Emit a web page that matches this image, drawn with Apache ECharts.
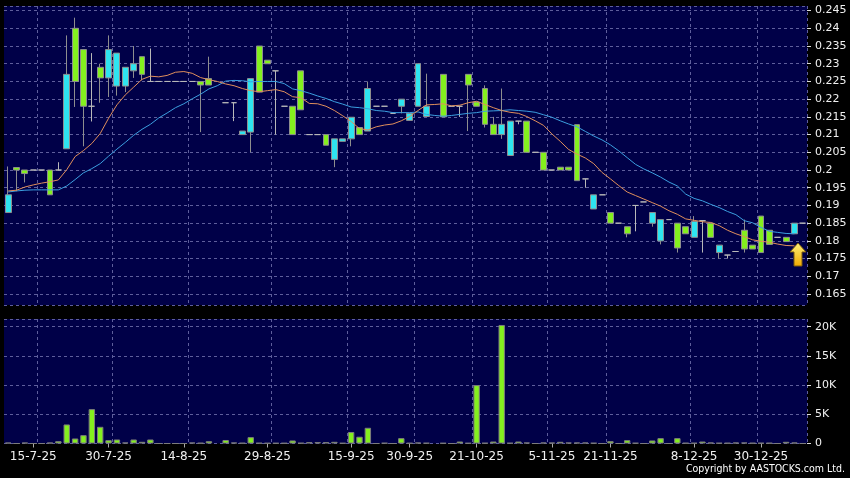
<!DOCTYPE html>
<html><head><meta charset="utf-8">
<script src="https://cdn.jsdelivr.net/npm/echarts@6/dist/echarts.min.js"></script>
<style>html,body{margin:0;padding:0;background:#000;}#c{width:850px;height:478px;}</style>
</head><body><div id="c"></div>
<script>
// tick labels on the date axis and the slot (trading-day index) each sits on
const tickLabels = ['15-7-25','30-7-25','14-8-25','29-8-25','15-9-25','30-9-25','21-10-25','5-11-25','21-11-25','8-12-25','30-12-25'];
const tickSlots  = [3, 12, 21, 31, 41, 48, 56, 65, 72, 82, 90];
const gridSlots  = [4, 13, 22, 32, 41, 49, 56, 65, 72, 82, 90];

// daily candles: [open, close, low, high]; null = no bar
const candles = [
 [0.188,0.193,0.188,0.201],[0.2007,0.200,0.194,0.2007],[0.200,0.199,0.1965,0.200],[0.2,0.2,0.2,0.2],[0.2,0.2,0.2,0.2],
 [0.200,0.193,0.193,0.200],[0.2,0.2,0.2,0.2022],[0.206,0.227,0.206,0.238],[0.240,0.225,0.2178,0.243],[0.234,0.218,0.2067,0.234],
 [0.218,0.218,0.2137,0.233],[0.229,0.226,0.219,0.230],[0.226,0.234,0.2206,0.238],[0.2237,0.233,0.221,0.233],[0.2237,0.229,0.222,0.229],
 [0.228,0.230,0.226,0.235],[0.232,0.227,0.2253,0.232],[0.225,0.225,0.225,0.2343],[0.225,0.225,0.225,0.225],[0.225,0.225,0.225,0.225],
 [0.225,0.225,0.225,0.225],[0.225,0.225,0.225,0.225],[0.225,0.225,0.225,0.225],[0.225,0.224,0.2107,0.225],[0.2258,0.224,0.224,0.232],
 null,[0.219,0.219,0.219,0.219],[0.219,0.219,0.2138,0.219],[0.210,0.211,0.210,0.211],[0.2107,0.2258,0.205,0.2258],
 [0.235,0.222,0.222,0.235],[0.231,0.230,0.230,0.231],[0.228,0.228,0.210,0.228],[0.218,0.218,0.218,0.218],[0.218,0.210,0.210,0.218],
 [0.228,0.217,0.217,0.228],[0.210,0.210,0.210,0.210],[0.210,0.210,0.210,0.210],[0.210,0.207,0.207,0.210],[0.203,0.2088,0.2008,0.2088],
 [0.2081,0.2088,0.2081,0.2088],[0.2088,0.2149,0.2067,0.2149],[0.212,0.210,0.210,0.212],[0.211,0.223,0.211,0.225],[0.218,0.218,0.218,0.218],
 [0.218,0.218,0.218,0.218],[0.216,0.216,0.216,0.216],[0.218,0.220,0.216,0.220],[0.214,0.216,0.214,0.216],[0.218,0.230,0.218,0.230],
 [0.2151,0.218,0.2151,0.2272],null,[0.227,0.215,0.215,0.227],[0.218,0.218,0.218,0.218],[0.218,0.218,0.215,0.218],
 [0.227,0.224,0.211,0.227],[0.2192,0.218,0.218,0.2192],[0.223,0.2129,0.212,0.2239],[0.2129,0.210,0.210,0.215],[0.210,0.2129,0.2088,0.223],
 [0.2041,0.2138,0.2041,0.2138],[0.2138,0.2138,0.2129,0.2138],[0.2138,0.205,0.205,0.2138],[0.205,0.205,0.205,0.205],[0.205,0.200,0.200,0.205],
 [0.2,0.2,0.2,0.2],[0.2008,0.200,0.200,0.2008],[0.2008,0.200,0.200,0.2008],[0.2128,0.197,0.197,0.2128],[0.1975,0.1975,0.195,0.1975],
 [0.189,0.193,0.189,0.193],[0.193,0.193,0.193,0.193],[0.188,0.185,0.185,0.188],[0.185,0.185,0.185,0.185],[0.184,0.182,0.181,0.184],
 [0.190,0.190,0.1827,0.190],[0.191,0.191,0.191,0.191],[0.185,0.188,0.184,0.188],[0.180,0.186,0.179,0.186],[0.186,0.186,0.186,0.186],
 [0.185,0.178,0.1767,0.185],[0.184,0.182,0.182,0.184],[0.181,0.1855,0.181,0.187],[0.1857,0.1857,0.1767,0.1857],[0.185,0.181,0.181,0.185],
 [0.1767,0.1788,0.175,0.1788],[0.176,0.176,0.175,0.176],[0.177,0.177,0.177,0.177],[0.183,0.1777,0.1767,0.186],[0.1788,0.1777,0.1777,0.1788],
 [0.187,0.1767,0.1767,0.187],[0.183,0.179,0.179,0.183],[0.181,0.181,0.181,0.181],[0.181,0.1798,0.1798,0.181],[0.182,0.185,0.182,0.185],
 [0.185,0.185,0.185,0.185]
];

const volume = [
 150,0,150,0,0,150,400,3260,860,1430,
 5890,2860,570,690,170,690,290,690,0,0,
 0,0,170,100,400,null,600,170,100,1090,
 100,80,80,80,520,100,230,230,230,290,
 80,1970,1160,2690,0,100,0,920,80,170,
 100,null,80,0,340,80,10000,100,340,20300,
 100,340,170,0,170,150,290,170,170,170,
 100,0,400,0,570,100,0,520,920,0,
 920,100,100,340,170,100,100,170,170,100,
 100,100,0,290,170,0
];

const maShort = [
 0.1941,0.1943,0.1952,0.1958,0.1963,0.1967,0.1972,0.2001,0.2038,0.2055,
 0.2075,0.2103,0.2146,0.2184,0.2212,0.2234,0.2256,0.2265,0.2263,0.2267,
 0.2276,0.2278,0.2273,0.2261,0.2255,0.2250,0.2243,0.2238,0.2230,0.2224,
 0.2221,0.2224,0.2227,0.2221,0.2207,0.2204,0.2188,0.2187,0.2180,0.2168,
 0.2153,0.2137,0.2117,0.2113,0.2122,0.2127,0.2130,0.2139,0.2151,0.2168,
 0.2184,0.2185,0.2187,0.2181,0.2183,0.2190,0.2194,0.2185,0.2176,0.2168,
 0.2163,0.2160,0.2151,0.2139,0.2126,0.2102,0.2081,0.2058,0.2045,0.2034,
 0.2018,0.1993,0.1975,0.1956,0.1938,0.1928,0.1918,0.1908,0.1898,0.1885,
 0.1875,0.1862,0.1858,0.1854,0.1852,0.1843,0.1830,0.1820,0.1812,0.1803,
 0.1799,0.1796,0.1791,0.1787,0.1786,null
];

const maLong = [
 0.1938,0.1941,0.1943,0.1944,0.1944,0.1944,0.1944,0.1955,0.1973,0.1992,
 0.2004,0.2018,0.2039,0.2059,0.2078,0.2098,0.2115,0.2129,0.2147,0.2161,
 0.2176,0.2187,0.2201,0.2214,0.2229,0.2238,0.2251,0.2253,0.2252,0.2249,
 0.2250,0.2250,0.2250,0.2244,0.2229,0.2224,0.2217,0.2209,0.2202,0.2193,
 0.2186,0.2178,0.2176,0.2173,0.2168,0.2166,0.2162,0.2162,0.2162,0.2164,
 0.2157,0.2154,0.2152,0.2154,0.2157,0.2160,0.2162,0.2166,0.2167,0.2168,
 0.2170,0.2168,0.2166,0.2163,0.2156,0.2149,0.2139,0.2130,0.2122,0.2109,
 0.2096,0.2085,0.2071,0.2054,0.2035,0.2016,0.2003,0.1992,0.1980,0.1966,
 0.1955,0.1932,0.1920,0.1913,0.1903,0.1894,0.1883,0.1874,0.1857,0.1851,
 0.1838,0.1827,0.1824,0.1821,0.1820,null
];

const slots = candles.map((_, i) => String(i));
const labelAt = {};
tickSlots.forEach((s, k) => { labelAt[s] = tickLabels[k]; });
const tickSet = new Set(tickSlots);
const gridSet = new Set(gridSlots);

const CYAN = '#2ee4f0', GREEN = '#84f01e', NAVY = '#000048';
const dash = { color: '#5e5e9c', type: [3, 3], width: 1 };
const FONT = 'DejaVu Sans';

const chart = echarts.init(document.getElementById('c'), null, { renderer: 'canvas' });
chart.setOption({
  backgroundColor: '#000',
  animation: false,
  grid: [
    { left: 4, right: 43, top: 6, height: 299, show: true, backgroundColor: NAVY, borderWidth: 0 },
    { left: 4, right: 43, top: 319, height: 124.5, show: true, backgroundColor: NAVY, borderWidth: 0 }
  ],
  xAxis: [
    { type: 'category', gridIndex: 0, data: slots, boundaryGap: true,
      axisLine: { show: false }, axisTick: { show: false }, axisLabel: { show: false },
      splitLine: { show: true, interval: (i) => gridSet.has(i), lineStyle: dash } },
    { type: 'category', gridIndex: 1, data: slots, boundaryGap: true,
      axisLine: { show: false },
      axisTick: { show: true, alignWithLabel: true, interval: (i) => tickSet.has(i), length: 4, lineStyle: { color: '#aaa' } },
      axisLabel: { interval: (i) => tickSet.has(i), formatter: (v, i) => labelAt[i] || '', color: '#f0f0f0', fontSize: 12, fontFamily: FONT, margin: 7 },
      splitLine: { show: true, interval: (i) => gridSet.has(i), lineStyle: dash } }
  ],
  yAxis: [
    { type: 'value', gridIndex: 0, position: 'right', min: 0.1619, max: 0.2463, splitNumber: 17, minInterval: 0.005, maxInterval: 0.005,
      axisLine: { show: false }, axisTick: { show: true, length: 4, lineStyle: { color: '#ddd' } },
      axisLabel: { color: '#f0f0f0', fontSize: 11, fontFamily: FONT, margin: 8, showMinLabel: false, showMaxLabel: false,
        formatter: (v) => String(parseFloat(v.toFixed(3))) },
      splitLine: { show: true, lineStyle: dash } },
    { type: 'value', gridIndex: 1, position: 'right', min: 0, max: 21320, interval: 5000,
      axisLine: { show: false }, axisTick: { show: true, length: 4, lineStyle: { color: '#ddd' } },
      axisLabel: { color: '#f0f0f0', fontSize: 11, fontFamily: FONT, margin: 8, showMaxLabel: false,
        formatter: (v) => v === 0 ? '0' : (v / 1000) + 'K' },
      splitLine: { show: true, lineStyle: dash } }
  ],
  series: [
    { type: 'candlestick', xAxisIndex: 0, yAxisIndex: 0, barWidth: 6.4, z: 2,
      data: candles.map(c => c ? c : ['-', '-', '-', '-']),
      itemStyle: { color: CYAN, color0: GREEN, borderColor: '#8e8e8e', borderColor0: '#8e8e8e', borderColorDoji: '#b8b8b8', borderWidth: 1 } },
    { type: 'line', xAxisIndex: 0, yAxisIndex: 0, data: maShort, symbol: 'none', z: 4,
      lineStyle: { color: '#e08f5c', width: 1 } },
    { type: 'line', xAxisIndex: 0, yAxisIndex: 0, data: maLong, symbol: 'none', z: 3,
      lineStyle: { color: '#3c9fe0', width: 1 } },
    { type: 'bar', xAxisIndex: 1, yAxisIndex: 1, data: volume.map(v => v == null ? '-' : v), barWidth: 6.4,
      itemStyle: { color: GREEN, borderColor: '#7c7c7c', borderWidth: 1 } }
  ],
  graphic: [
    { type: 'polygon', z: 100,
      shape: { points: [[798, 243], [806, 252], [802, 252], [802, 266], [794, 266], [794, 252], [790, 252]] },
      style: { fill: new echarts.graphic.LinearGradient(0, 0, 0, 1, [{ offset: 0, color: '#fff27a' }, { offset: 1, color: '#f0a800' }]),
        stroke: '#7a5a10', lineWidth: 1 } },
    { type: 'text', right: 5, top: 464, z: 100,
      style: { text: 'Copyright by AASTOCKS.com Ltd.', fill: '#ffffff', font: '10.5px "DejaVu Sans Condensed", "DejaVu Sans"' } }
  ]
});
</script>
</body></html>
